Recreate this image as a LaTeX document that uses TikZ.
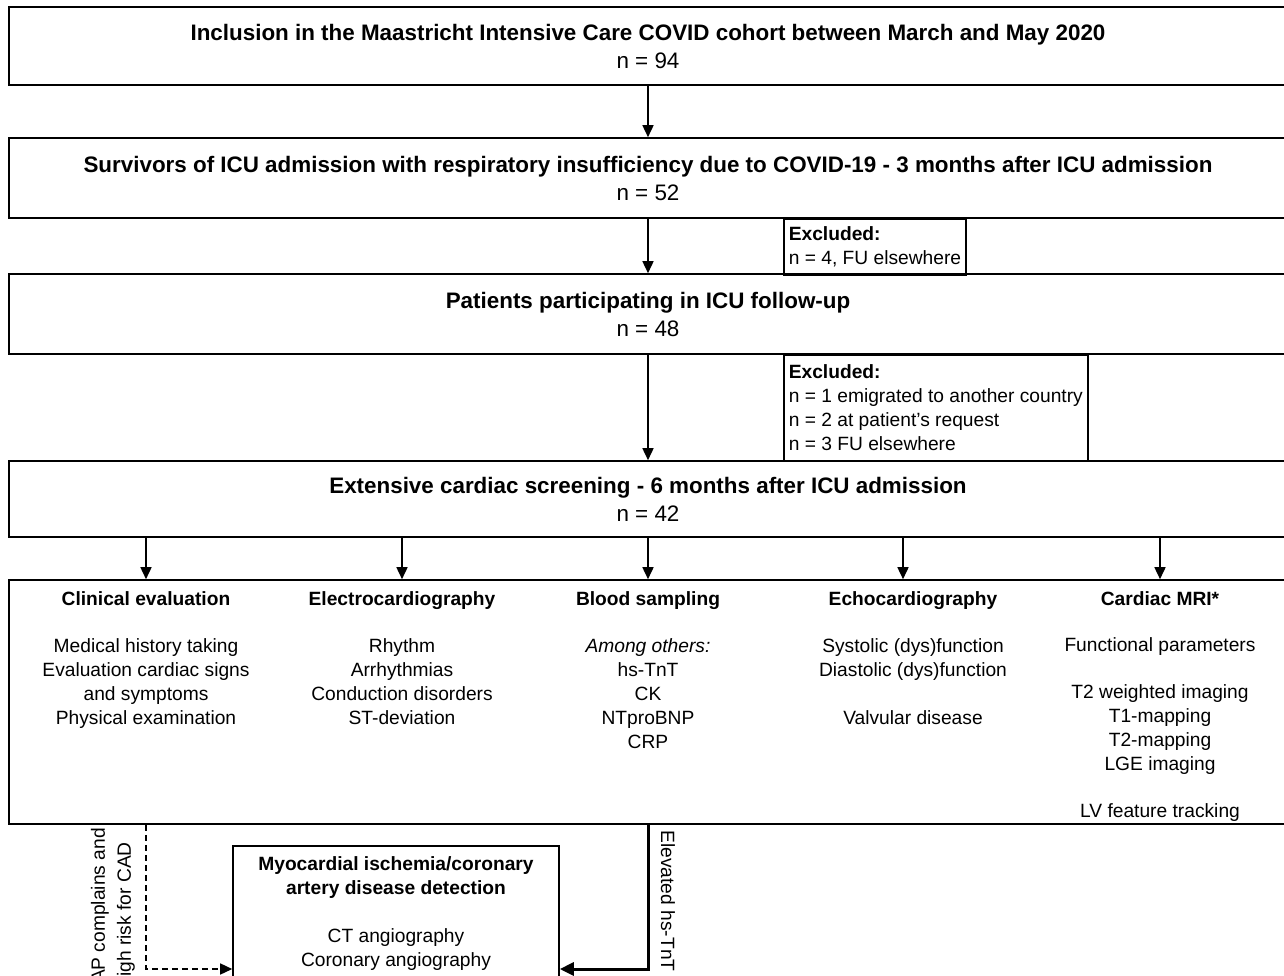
\documentclass[tikz,border=0pt]{standalone}
\usepackage{fontspec}
\setmainfont{Liberation Sans}
\usetikzlibrary{arrows.meta,calc}
\tikzset{
  stagebox/.style={draw, line width=1.6pt, minimum width=1278pt, align=center, inner sep=0pt,
    font=\fontsize{22.4}{28}\selectfont},
  exclbox/.style={draw, line width=1.6pt, align=left, anchor=north west, inner sep=5pt,
    font=\fontsize{19.2}{24}\selectfont},
  coltext/.style={align=center, anchor=north, inner sep=0pt, font=\fontsize{19.2}{24}\selectfont},
  flow/.style={line width=1.6pt, -{Triangle[length=12pt,width=11pt]}},
  bigflow/.style={line width=3pt, -{Triangle[length=14pt,width=13pt]}},
  dashflow/.style={line width=1.5pt, dash pattern=on 6pt off 4pt, -{Triangle[length=12pt,width=11pt]}},
  flowlabel/.style={inner sep=0pt, font=\fontsize{19.2}{24}\selectfont},
}
\begin{document}
\begin{tikzpicture}[x=1pt, y=-1pt]
  \useasboundingbox (0,0) rectangle (1284,976);
  % stages of the cohort
  \node[stagebox, minimum height=78pt] (incl) at (648,46)
    {\textbf{Inclusion in the Maastricht Intensive Care COVID cohort between March and May 2020}\\n = 94};
  \node[stagebox, minimum height=80pt] (surv) at (648,178)
    {\textbf{Survivors of ICU admission with respiratory insufficiency due to COVID-19 - 3 months after ICU admission}\\n = 52};
  \node[stagebox, minimum height=80pt] (fu) at (648,314)
    {\textbf{Patients participating in ICU follow-up}\\n = 48};
  \node[stagebox, minimum height=76pt] (scr) at (648,499)
    {\textbf{Extensive cardiac screening - 6 months after ICU admission}\\n = 42};
  \node[draw, line width=1.6pt, minimum width=1278pt, minimum height=244pt] (exam) at (648,702) {};
  % exclusions
  \node[exclbox, minimum height=56pt] (excla) at (783,218) {\textbf{Excluded:}\\n = 4, FU elsewhere};
  \node[exclbox, minimum height=106pt] (exclb) at (783,354)
    {\textbf{Excluded:}\\n = 1 emigrated to another country\\n = 2 at patient's request\\n = 3 FU elsewhere};
  % screening components
  \node[coltext] (clin) at (146,591) {\textbf{Clinical evaluation}\\[23pt]
    Medical history taking\\Evaluation cardiac signs\\and symptoms\\Physical examination};
  \node[coltext] (ecg) at (402,591) {\textbf{Electrocardiography}\\[23pt]
    Rhythm\\Arrhythmias\\Conduction disorders\\ST-deviation};
  \node[coltext] (blood) at (648,591) {\textbf{Blood sampling}\\[23pt]
    \textit{Among others:}\\hs-TnT\\CK\\NTproBNP\\CRP};
  \node[coltext] (echo) at (913,591) {\textbf{Echocardiography}\\[23pt]
    Systolic (dys)function\\Diastolic (dys)function\\[24pt]Valvular disease};
  \node[coltext] (mri) at (1160,591) {\textbf{Cardiac MRI*}\\[22pt]
    Functional parameters\\[23pt]T2 weighted imaging\\T1-mapping\\T2-mapping\\LGE imaging\\[23pt]
    LV feature tracking};
  % ischemia work-up
  \node[draw, line width=1.6pt, minimum width=326pt, minimum height=136pt, align=center,
    font=\fontsize{19.2}{24}\selectfont] (mcad) at (396,914)
    {\textbf{Myocardial ischemia/coronary}\\\textbf{artery disease detection}\\[24pt]
     CT angiography\\Coronary angiography};
  \coordinate (dashturn) at (146,969);
  \coordinate (tntturn) at (648,969);
  \node[flowlabel, rotate=90, anchor=east] (caplaba) at (100,828) {AP complains and};
  \node[flowlabel, rotate=90, anchor=east] (caplabb) at (126,842) {high risk for CAD};
  \node[flowlabel, rotate=-90] (tntlab) at (668,901) {Elevated hs-TnT};
  % connectors
  \draw[flow] (incl) -- (surv);
  \draw[flow] (surv) -- (fu);
  \draw[flow] (fu) -- (scr);
  \foreach \c/\dx in {clin/0,ecg/0,blood/0,echo/-10,mri/0}
    \draw[flow] ($(scr.south -| \c)+(\dx,0)$) -- ($(exam.north -| \c)+(\dx,0)$);
  \draw[dashflow] (exam.south -| clin) -- (dashturn) -- (dashturn -| mcad.west);
  \draw[bigflow] (exam.south -| blood) -- (tntturn) -- (tntturn -| mcad.east);
\end{tikzpicture}
\end{document}
